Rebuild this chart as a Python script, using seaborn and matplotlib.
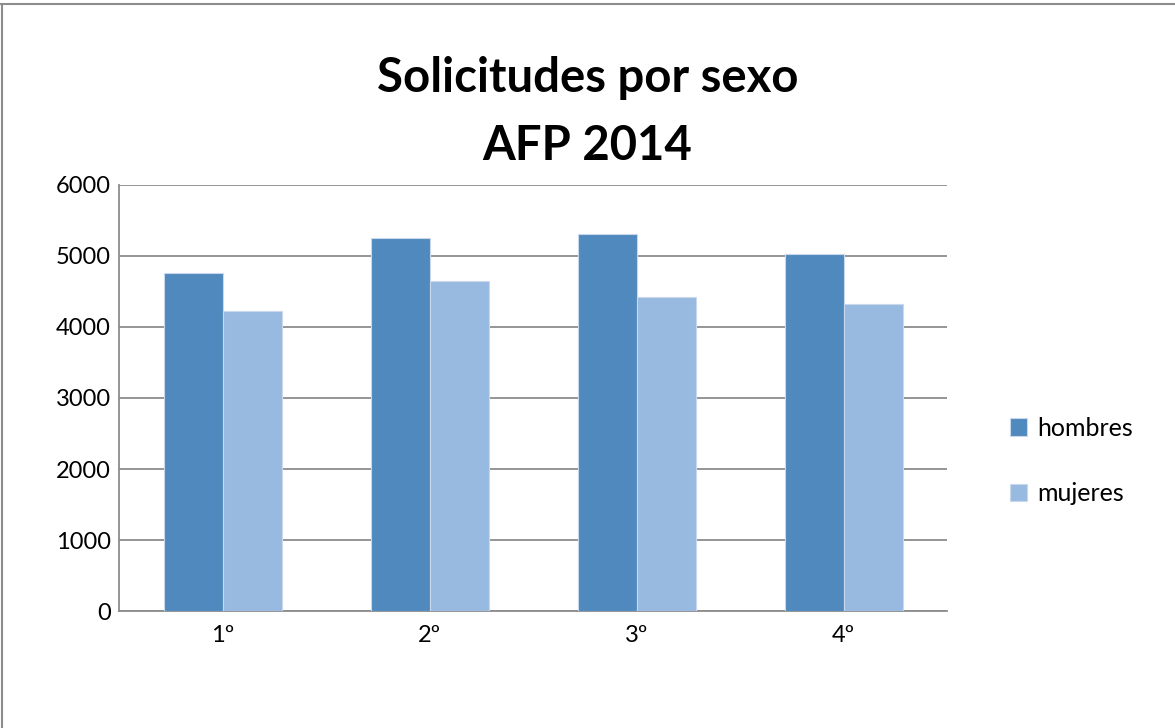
import pandas as pd
import seaborn as sns
import matplotlib.pyplot as plt
from matplotlib.lines import Line2D

trimestres = ['1º', '2º', '3º', '4º']
hombres = [4765, 5260, 5305, 5035]
mujeres = [4220, 4650, 4420, 4330]

df = pd.DataFrame({
    'trimestre': trimestres * 2,
    'valor': hombres + mujeres,
    'sexo': ['hombres'] * 4 + ['mujeres'] * 4,
})

sns.set_style('white')
plt.rcParams['font.family'] = ['Lato', 'DejaVu Sans']
plt.rcParams['text.color'] = 'black'
plt.rcParams['xtick.color'] = 'black'
plt.rcParams['ytick.color'] = 'black'

fig = plt.figure(figsize=(11.75, 7.28), dpi=100)
ax = fig.add_axes([0.1013, 0.1607, 0.7047, 0.5852])

sns.barplot(data=df, x='trimestre', y='valor', hue='sexo',
            palette=['#4F89BD', '#98B9E0'], saturation=1, width=0.57,
            edgecolor='#C9D8EC', linewidth=0.8, ax=ax, zorder=3)

ax.set_ylim(0, 6000)
ax.set_yticks(range(0, 6001, 1000))
ax.yaxis.grid(True, color='#8C8C8C', linewidth=1.3, zorder=0)
ax.set_axisbelow(True)
ax.set_xlabel('')
ax.set_ylabel('')
ax.tick_params(axis='both', labelsize=17, length=0, labelcolor='black')
ax.tick_params(axis='y', pad=6)
ax.tick_params(axis='x', pad=10)
for s in ['top', 'right']:
    ax.spines[s].set_visible(False)
for s in ['left', 'bottom']:
    ax.spines[s].set_color('#8C8C8C')
    ax.spines[s].set_linewidth(1.3)

handles, labels = ax.get_legend_handles_labels()
ax.get_legend().remove()
fig.legend(handles, labels, loc='center left', bbox_to_anchor=(0.840, 0.367),
           frameon=False, fontsize=18, labelspacing=1.7,
           handlelength=0.7, handleheight=0.7, handletextpad=0.4)

fig.text(0.5, 0.846, 'Solicitudes por sexo\nAFP 2014', ha='center', va='center',
         fontsize=34, fontweight='bold', linespacing=1.65)

# marco: solo lineas superior e izquierda
fig.lines.append(Line2D([0.0013, 0.0013], [0, 0.995], transform=fig.transFigure,
                        color='#8C8C8C', linewidth=1.5))
fig.lines.append(Line2D([0, 1], [0.995, 0.995], transform=fig.transFigure,
                        color='#8C8C8C', linewidth=1.5))

fig.savefig('out.png', dpi=100)
